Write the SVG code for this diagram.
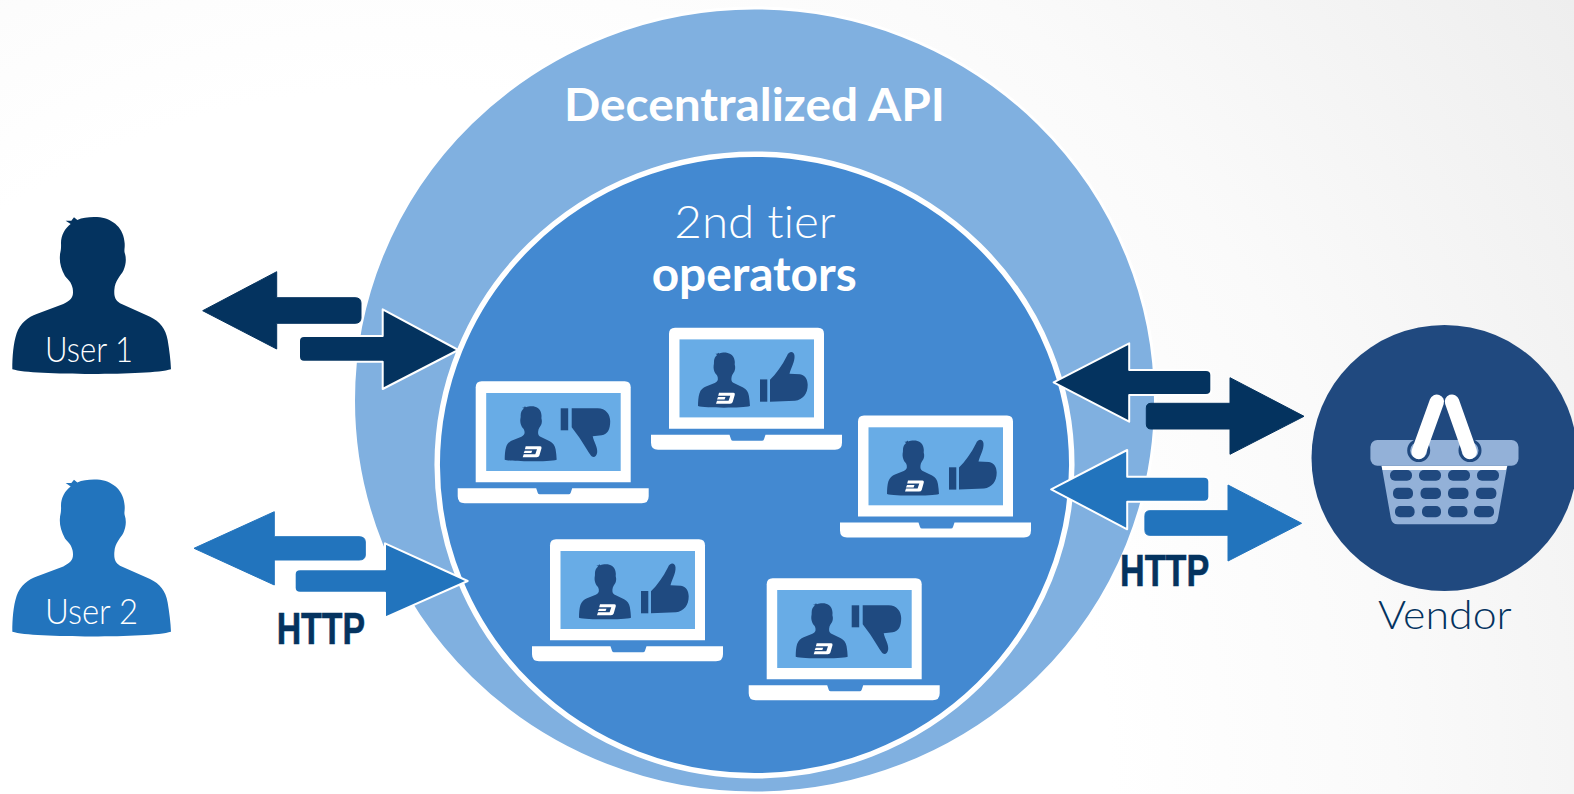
<svg xmlns="http://www.w3.org/2000/svg" width="1574" height="794" viewBox="0 0 1574 794">
<style>
.t{font-family:"Lato","Liberation Sans",sans-serif;font-variant-ligatures:none}
.b{font-weight:700}
.l{font-weight:300}
.w{fill:#fff}
.navy{fill:#04335f}
.mid{fill:#2274bd}
.pf{fill:#1f4a80}
.sn{stroke:#04335f;stroke-width:1;stroke-linejoin:round}
.sm{stroke:#2274bd;stroke-width:1;stroke-linejoin:round}
.ao{stroke:#fff;stroke-width:2;stroke-linejoin:round}
.http{font-family:"Liberation Sans",sans-serif;font-weight:700;font-size:45px;fill:#04335f;stroke:#04335f;stroke-width:.6}
.win{fill:#20497f}
</style>
<defs>
<radialGradient id="bg" gradientUnits="userSpaceOnUse" cx="400" cy="800" r="1420">
<stop offset="0.5" stop-color="#ffffff"/><stop offset="0.7" stop-color="#fafafa"/><stop offset="1" stop-color="#eeeeee"/>
</radialGradient>
<path id="person" d="M37 508C37 470 40 430 50 400C60 370 85 350 110 342L190 312C215 300 222 290 218 265C214 245 205 240 195 228C182 205 178 185 180 165C181 155 184 150 183 130C183 105 195 85 212 72L197 62L214 62L222 52L232 60C250 52 275 50 300 52C340 58 372 85 374 130C375 145 372 150 374 158C380 175 378 195 370 212C362 228 345 240 343 270C342 290 345 300 360 310L450 350C480 365 497 385 503 420C508 450 512 480 513 508C480 518 380 522 275 522C170 522 70 518 37 508Z"/>
<g id="laptop">
<path class="w" d="M0 101V6Q0 0 6 0H149Q155 0 155 6V101Z"/>
<rect x="10.500" y="11.700" width="134.500" height="78" fill="#68ace6"/>
<path class="w" d="M-18 107H60.500L62 111.500Q62.500 113 64 113H93Q94.500 113 95 111.500L96.500 107H173V115Q173 122 166 122H-11Q-18 122 -18 115Z"/>
<use href="#person" class="pf" transform="translate(24.960 18.900) scale(.1092 .117)"/>
<path class="w" d="M50 65H64.500Q66.200 65 65.800 67L63.700 74.300Q63.200 76 61 76H47L48 73H59.600L61.300 68H49.200Z"/>
<path class="w" d="M49 69.400H56.500L55.600 71.800H48Z"/>
</g>
<g id="up">
<use href="#laptop"/>
<rect x="91" y="51.700" width="7.300" height="22.300" class="pf"/>
<path class="pf" d="M101 74V52C107 46 113 38 118 28C120 23 125 23 125.500 28C126 34 122 40 120.500 46L131 46.500C136 47 138.700 52 138.700 57C138.700 66 134 72 126 73Z"/>
</g>
<g id="down">
<use href="#laptop"/>
<rect x="85" y="27" width="7.500" height="22" class="pf"/>
<path class="pf" d="M96 27H122C130 27 134.500 33 134.500 40C134.500 48 132 53 126 54L117 55C118 60 122 66 121.500 71C121 76 117 77 115 74C112 70 110 66 106 60C103 55 99 50 96 46Z"/>
</g>
</defs>
<rect width="1574" height="794" fill="url(#bg)"/>
<g id="api-circle">
<ellipse cx="754.500" cy="400.500" rx="401" ry="392.500" fill="#80b0e0" stroke="#fff" stroke-width="3"/>
<text class="t b w" x="564" y="121" font-size="45" textLength="381" lengthAdjust="spacingAndGlyphs">Decentralized API</text>
</g>
<g id="operators-circle">
<ellipse cx="754.500" cy="465" rx="317.300" ry="310.800" fill="#4389d1" stroke="#fff" stroke-width="5.500"/>
<text class="t l w" x="674.300" y="237.700" font-size="45" textLength="161.400" lengthAdjust="spacingAndGlyphs">2nd tier</text>
<text class="t b w" x="651.700" y="291" font-size="48" textLength="205" lengthAdjust="spacingAndGlyphs">operators</text>
</g>
<g id="laptop-1"><use href="#down" transform="translate(475.700 381.300)"/></g>
<g id="laptop-2"><use href="#up" transform="translate(669 327.700)"/></g>
<g id="laptop-3"><use href="#up" transform="translate(858 415.600)"/></g>
<g id="laptop-4"><use href="#up" transform="translate(550 539.300)"/></g>
<g id="laptop-5"><use href="#down" transform="translate(766.700 578.300)"/></g>
<g id="user-1">
<use href="#person" class="navy" transform="translate(0 200) scale(.3333)"/>
<text class="t l w" x="45" y="361.700" font-size="36" textLength="88" lengthAdjust="spacingAndGlyphs">User 1</text>
</g>
<g id="user-2">
<use href="#person" class="mid" transform="translate(0 462.400) scale(.3333)"/>
<text class="t l w" x="45" y="624" font-size="36" textLength="93" lengthAdjust="spacingAndGlyphs">User 2</text>
</g>
<g id="vendor">
<circle cx="1444.500" cy="458" r="133" fill="#20497f"/>
<path fill="#93b1d8" d="M1381.600 465.700H1507.300L1498 518Q1497 524.300 1491 524.300H1397.500Q1392 524.300 1390.800 518Z"/>
<path class="w" d="M1381.600 465.700H1507.300L1506 470H1382.400Z"/>
<rect x="1370.400" y="440" width="148.100" height="25.700" rx="7" fill="#93b1d8"/>
<g class="win">
<rect x="1390" y="470" width="22" height="10.700" rx="5"/><rect x="1419" y="470" width="22" height="10.700" rx="5"/><rect x="1448" y="470" width="22" height="10.700" rx="5"/><rect x="1477" y="470" width="22" height="10.700" rx="5"/>
<rect x="1393" y="487.700" width="20" height="11.300" rx="5"/><rect x="1420.500" y="487.700" width="20.500" height="11.300" rx="5"/><rect x="1448" y="487.700" width="20.500" height="11.300" rx="5"/><rect x="1476" y="487.700" width="20.400" height="11.300" rx="5"/>
<rect x="1395" y="506" width="19.600" height="11.300" rx="5"/><rect x="1422" y="506" width="19" height="11.300" rx="5"/><rect x="1448" y="506" width="19.500" height="11.300" rx="5"/><rect x="1474" y="506" width="20" height="11.300" rx="5"/>
</g>
<circle cx="1418.700" cy="450.500" r="10" fill="#93b1d8" stroke="#20497f" stroke-width="3"/>
<circle cx="1470" cy="450.500" r="10" fill="#93b1d8" stroke="#20497f" stroke-width="3"/>
<path d="M1418.700 452L1436.800 401.700M1469.800 452L1452 401.700" stroke="#fff" stroke-width="14.500" stroke-linecap="round" fill="none"/>
<text class="t" x="1378" y="629.300" font-size="39" font-weight="300" fill="#04335f" textLength="133.700" lengthAdjust="spacingAndGlyphs">Vendor</text>
</g>
<g id="connectors">
<path class="navy sn" d="M202.700 310.700L276.700 271.700V297.700H355Q361 297.700 361 303V318Q361 323.300 355 323.300H276.700V349Z"/>
<path class="navy ao" d="M458.300 350L382.700 309.300V336H304Q299 336 299 341V356.700Q299 361.700 304 361.700H382.700V389Z"/>
<path class="mid sm" d="M194 548.300L274.300 511.700V536.700H359Q365.300 536.700 365.300 542V555Q365.300 560 359 560H274.300V585Z"/>
<path class="mid ao" d="M467.700 581L385 543.300V569.300H300Q294.700 569.300 294.700 574.300V587.700Q294.700 592.700 300 592.700H385V617.700Z"/>
<path class="navy ao" d="M1053.600 382.300L1129.200 343.300V370H1206Q1211.300 370 1211.300 375V390Q1211.300 395 1206 395H1129.200V421.700Z"/>
<path class="navy sn" d="M1304 416.300L1230 377.700V403.300H1151Q1146.300 403.300 1146.300 408V424Q1146.300 429 1151 429H1230V454.300Z"/>
<path class="mid ao" d="M1051.200 489.300L1127.200 450V476.700H1204Q1209.300 476.700 1209.300 481.700V496.700Q1209.300 501.700 1204 501.700H1127.200V529.300Z"/>
<path class="mid sm" d="M1301.600 523.300L1228 485V510.700H1150Q1144.900 510.700 1144.900 515.700V530.300Q1144.900 535.300 1150 535.300H1228V561Z"/>
<text class="http" x="276.700" y="644" textLength="88.300" lengthAdjust="spacingAndGlyphs">HTTP</text>
<text class="http" x="1120" y="586" textLength="89.300" lengthAdjust="spacingAndGlyphs">HTTP</text>
</g>
</svg>
